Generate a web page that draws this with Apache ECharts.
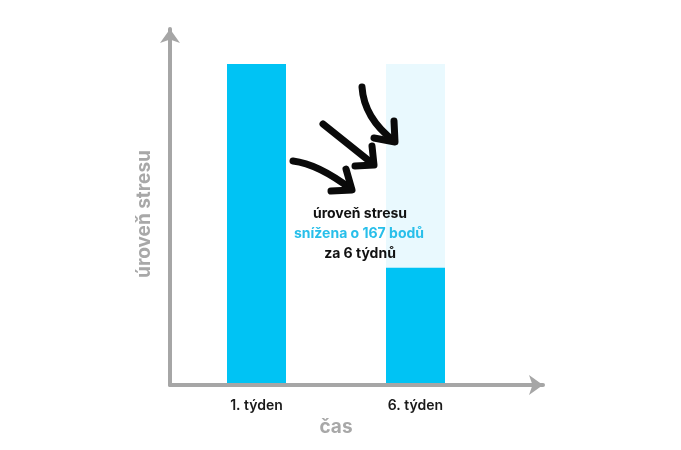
<!DOCTYPE html>
<html>
<head>
<meta charset="utf-8">
<script src="https://cdn.jsdelivr.net/npm/echarts@6/dist/echarts.min.js"></script>
<style>
html,body{margin:0;padding:0;background:#fff;}
#chart{width:681px;height:450px;}
</style>
</head>
<body>
<div id="chart"></div>
<script>
const categories = ['1. týden', '6. týden'];
const stressValues = [263, 96];
const xAxisName = 'čas';
const yAxisName = 'úroveň stresu';
const noteLines = ['úroveň stresu', 'snížena o 167 bodů', 'za 6 týdnů'];

const FONT = 'Inter, "Noto Sans", sans-serif';
const chart = echarts.init(document.getElementById('chart'), null, {renderer: 'canvas'});

const arrowStyle = {stroke: '#0a0a0a', lineWidth: 7, lineCap: 'round', lineJoin: 'round', fill: null};

chart.setOption({
  animation: false,
  backgroundColor: '#ffffff',
  grid: [
    {left: 177, width: 318, top: 64, bottom: 65},
    {left: 170, right: 138, top: 29, bottom: 65}
  ],
  xAxis: [
    {
      type: 'category', gridIndex: 0, data: categories,
      axisLine: {show: false}, axisTick: {show: false},
      axisLabel: {color: '#1a1a1a', fontSize: 14, fontWeight: 600, fontFamily: FONT, margin: 14},
      name: xAxisName, nameLocation: 'middle', nameGap: 31,
      nameTextStyle: {color: '#a8a8a8', fontSize: 19, fontWeight: 'bold', fontFamily: FONT}
    },
    {
      type: 'value', gridIndex: 1, min: 0, max: 1, z: 5,
      axisLine: {show: true, lineStyle: {color: '#a6a6a6', width: 4}, symbol: ['none', 'arrow'], symbolSize: [15, 14]},
      axisTick: {show: false}, axisLabel: {show: false}, splitLine: {show: false}
    }
  ],
  yAxis: [
    {type: 'value', gridIndex: 0, min: 0, max: 263, show: false},
    {
      type: 'value', gridIndex: 1, min: 0, max: 1, z: 5,
      axisLine: {show: true, lineStyle: {color: '#a6a6a6', width: 4}, symbol: ['none', 'arrow'], symbolSize: [15, 14]},
      axisTick: {show: false}, axisLabel: {show: false}, splitLine: {show: false},
      name: yAxisName, nameLocation: 'middle', nameGap: 16,
      nameTextStyle: {color: '#a8a8a8', fontSize: 19, fontWeight: 'bold', fontFamily: FONT, padding: [0, 14, 0, 0]}
    }
  ],
  series: [{
    type: 'bar', xAxisIndex: 0, yAxisIndex: 0,
    data: stressValues, barWidth: 59,
    itemStyle: {color: '#00c3f4'},
    showBackground: true,
    backgroundStyle: {color: '#e9f9fe'}
  }],
  graphic: [
    {type: 'bezierCurve', shape: {x1: 293, y1: 161, x2: 351, y2: 189, cpx1: 318, cpy1: 164}, style: arrowStyle, z: 10},
    {type: 'polyline', shape: {points: [[346, 169], [352, 190], [331, 191]]}, style: arrowStyle, z: 10},
    {type: 'line', shape: {x1: 323, y1: 124, x2: 373, y2: 164}, style: arrowStyle, z: 10},
    {type: 'polyline', shape: {points: [[372, 146], [374, 165], [355, 166]]}, style: arrowStyle, z: 10},
    {type: 'bezierCurve', shape: {x1: 362, y1: 87, x2: 394, y2: 141, cpx1: 364, cpy1: 118}, style: arrowStyle, z: 10},
    {type: 'polyline', shape: {points: [[394, 121], [395, 142], [374, 138]]}, style: arrowStyle, z: 10},
    {type: 'text', x: 360, y: 214, z: 10, style: {text: noteLines[0], fill: '#111', font: 'bold 14px ' + FONT, textAlign: 'center', textVerticalAlign: 'middle'}},
    {type: 'text', x: 359, y: 234, z: 10, style: {text: noteLines[1], fill: '#28bfea', font: 'bold 14px ' + FONT, textAlign: 'center', textVerticalAlign: 'middle'}},
    {type: 'text', x: 360, y: 254, z: 10, style: {text: noteLines[2], fill: '#111', font: 'bold 14px ' + FONT, textAlign: 'center', textVerticalAlign: 'middle'}}
  ]
});
</script>
</body>
</html>
